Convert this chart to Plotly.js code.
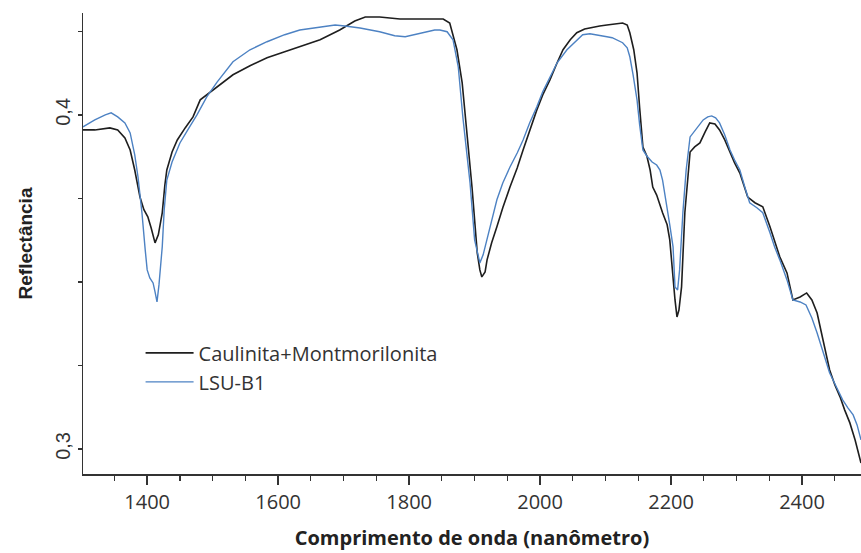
<!DOCTYPE html>
<html>
<head>
<meta charset="utf-8">
<script src="https://cdn.plot.ly/plotly-3.0.1.min.js"></script>
<style>html,body{margin:0;padding:0;background:#fff;}#chart{width:861px;height:553px;}</style>
</head>
<body>
<div id="chart"></div>
<script>
// Caulinita+Montmorilonita (black)
const wlBlack = [1302,1320,1343,1355,1366,1374,1381,1389,1395,1401,1406,1412,1417,1423,1427,1430,1438,1446,1458,1470,1481,1491,1507,1522,1531,1557,1583,1610,1633,1664,1694,1717,1733,1755,1786,1816,1839,1852,1862,1873,1881,1888,1896,1904,1908,1911,1916,1919,1926,1934,1943,1954,1965,1974,1984,1995,2004,2015,2026,2035,2046,2056,2068,2081,2091,2102,2114,2126,2133,2137,2143,2148,2152,2157,2163,2168,2172,2178,2187,2194,2198,2203,2206,2209,2212,2216,2221,2226,2229,2236,2244,2252,2259,2267,2274,2282,2290,2297,2305,2317,2328,2340,2351,2358,2366,2377,2386,2397,2407,2415,2423,2432,2442,2450,2458,2465,2473,2481,2490];
const refBlack = [0.3955,0.3955,0.3961,0.3955,0.3931,0.3895,0.3835,0.3754,0.3716,0.3695,0.3662,0.3617,0.3641,0.3707,0.3790,0.3835,0.3889,0.3925,0.3961,0.3994,0.4045,0.4060,0.4084,0.4105,0.4120,0.4147,0.4171,0.4189,0.4204,0.4225,0.4254,0.4281,0.4293,0.4293,0.4287,0.4287,0.4287,0.4287,0.4275,0.4195,0.4096,0.3946,0.3784,0.3587,0.3536,0.3515,0.3530,0.3566,0.3617,0.3665,0.3722,0.3784,0.3841,0.3895,0.3955,0.4015,0.4060,0.4105,0.4156,0.4195,0.4225,0.4246,0.4257,0.4263,0.4266,0.4269,0.4272,0.4275,0.4269,0.4246,0.4195,0.4126,0.4021,0.3904,0.3877,0.3835,0.3784,0.3760,0.3707,0.3671,0.3626,0.3506,0.3446,0.3395,0.3416,0.3485,0.3707,0.3820,0.3889,0.3904,0.3916,0.3949,0.3976,0.3973,0.3955,0.3925,0.3886,0.3856,0.3826,0.3754,0.3737,0.3725,0.3665,0.3620,0.3575,0.3527,0.3446,0.3455,0.3467,0.3446,0.3407,0.3326,0.3237,0.3192,0.3156,0.3117,0.3078,0.3027,0.2958];

// LSU-B1 (blue)
const wlBlue = [1302,1320,1336,1345,1355,1366,1374,1381,1386,1392,1397,1400,1404,1409,1412,1415,1418,1423,1426,1430,1438,1450,1462,1476,1491,1507,1531,1557,1583,1610,1633,1664,1687,1702,1725,1755,1778,1794,1809,1824,1839,1847,1858,1867,1875,1882,1887,1893,1900,1905,1908,1913,1919,1926,1934,1943,1954,1965,1974,1984,1995,2004,2015,2026,2041,2053,2065,2076,2087,2096,2102,2110,2117,2126,2133,2137,2142,2148,2152,2157,2163,2171,2178,2183,2187,2194,2198,2203,2206,2210,2213,2218,2223,2229,2239,2249,2256,2262,2268,2274,2282,2290,2297,2305,2313,2320,2331,2340,2351,2358,2366,2377,2386,2397,2406,2415,2423,2432,2442,2453,2462,2470,2478,2484,2490];
const refBlue = [0.3964,0.3985,0.4000,0.4006,0.3994,0.3976,0.3946,0.3880,0.3814,0.3707,0.3596,0.3536,0.3512,0.3497,0.3470,0.3440,0.3491,0.3605,0.3716,0.3805,0.3859,0.3916,0.3955,0.4000,0.4054,0.4099,0.4159,0.4195,0.4219,0.4240,0.4254,0.4263,0.4269,0.4266,0.4260,0.4249,0.4237,0.4234,0.4240,0.4246,0.4254,0.4254,0.4249,0.4225,0.4144,0.3994,0.3895,0.3796,0.3626,0.3581,0.3557,0.3581,0.3626,0.3686,0.3746,0.3796,0.3844,0.3886,0.3925,0.3976,0.4024,0.4069,0.4114,0.4156,0.4195,0.4219,0.4240,0.4243,0.4240,0.4237,0.4234,0.4231,0.4225,0.4216,0.4201,0.4174,0.4120,0.4045,0.3970,0.3895,0.3877,0.3859,0.3850,0.3835,0.3805,0.3725,0.3671,0.3605,0.3485,0.3476,0.3536,0.3707,0.3835,0.3934,0.3961,0.3985,0.3994,0.3997,0.3991,0.3976,0.3940,0.3895,0.3865,0.3835,0.3781,0.3737,0.3722,0.3707,0.3647,0.3605,0.3566,0.3506,0.3446,0.3440,0.3431,0.3392,0.3347,0.3290,0.3228,0.3183,0.3147,0.3123,0.3102,0.3072,0.3027];

const yTickVals = [0.3, 0.4];
const yTickText = ['0,3', '0,4'];
const seriesNames = ['Caulinita+Montmorilonita', 'LSU-B1'];

const axisColor = '#333333';
const humanist = 'Open Sans, Lato, sans-serif';
const arial = 'Liberation Sans, Arial, sans-serif';

const traces = [
  {x: wlBlack, y: refBlack, name: seriesNames[0], type: 'scatter', mode: 'lines',
   line: {color: '#1e1e1e', width: 1.6}},
  {x: wlBlue, y: refBlue, name: seriesNames[1], type: 'scatter', mode: 'lines',
   line: {color: '#4d82c3', width: 1.4}}
];

const layout = {
  width: 861, height: 553,
  margin: {l: 83, r: 0, t: 13, b: 79},
  paper_bgcolor: '#ffffff', plot_bgcolor: '#ffffff',
  showlegend: true,
  legend: {x: 0.074, y: 0.305, xanchor: 'left', yanchor: 'top',
           bgcolor: 'rgba(0,0,0,0)', font: {family: humanist, size: 20, color: '#333'},
           itemwidth: 48, tracegroupgap: 0},
  xaxis: {
    range: [1302, 2490], showgrid: false, zeroline: false,
    showline: true, linecolor: axisColor, linewidth: 1.5,
    ticks: 'outside', ticklen: 9, tickwidth: 1.5, tickcolor: axisColor,
    tick0: 0, dtick: 200,
    minor: {tick0: 0, dtick: 50, ticks: 'outside', ticklen: 5, tickwidth: 1.2, tickcolor: axisColor},
    tickfont: {family: humanist, size: 20, color: '#333'},
    title: {text: 'Comprimento de onda (nanômetro)', standoff: 17,
            font: {family: humanist, size: 20, color: '#222', weight: 'bold'}}
  },
  yaxis: {
    range: [0.2925, 0.4305], showgrid: false, zeroline: false,
    showline: true, linecolor: axisColor, linewidth: 1.5,
    tickmode: 'array', tickvals: yTickVals, ticktext: yTickText, tickangle: -90,
    ticks: 'outside', ticklen: 4, tickwidth: 1.5, tickcolor: axisColor,
    minor: {tickmode: 'linear', tick0: 0, dtick: 0.025, ticks: 'outside', ticklen: 4, tickwidth: 1.5, tickcolor: axisColor},
    tickfont: {family: arial, size: 20, color: '#333'},
    title: {text: 'Reflectância', standoff: 14,
            font: {family: arial, size: 19, color: '#222', weight: 'bold'}}
  }
};

Plotly.newPlot('chart', traces, layout, {displayModeBar: false, staticPlot: true});
</script>
</body>
</html>
